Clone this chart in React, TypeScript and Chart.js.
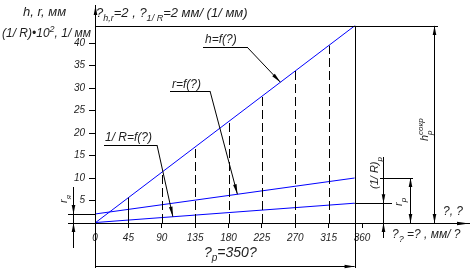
import React, { useEffect, useRef } from 'react';
import { Chart, registerables } from 'chart.js';

Chart.register(...registerables);

// ---- data ----
const phiRange = [0, 350];            // working angle φ, degrees
const hValues = [0, 43.8];            // h, mm
const rValues = [2, 10];              // r, mm
const invRValues = [0.1, 4.4];        // (1/R)·10², 1/mm
const xTickValues = [0, 45, 90, 135, 180, 225, 270, 315, 360];
const yTickValues = [5, 10, 15, 20, 25, 30, 35, 40];
const solidMarks = [45];
const dashedMarks = [90, 135, 180, 225, 270, 315];
const leaderPhi = [250, 192, 105];    // h, r, 1/R leader tips (φ)

const FONT = '"Liberation Sans", Arial, sans-serif';
const TXT = '#1e1e1e';

function valAt(vals: number[], phi: number) {
  return vals[0] + ((vals[1] - vals[0]) * (phi - phiRange[0])) / (phiRange[1] - phiRange[0]);
}

type Part = { t: string; sub?: boolean; sup?: boolean };

function rich(ctx: CanvasRenderingContext2D, x: number, y: number, parts: Part[], size: number, rotate = false) {
  ctx.save();
  ctx.translate(x, y);
  if (rotate) ctx.rotate(-Math.PI / 2);
  ctx.textBaseline = 'alphabetic';
  ctx.textAlign = 'left';
  ctx.fillStyle = TXT;
  let cx = 0;
  let lastStart = 0;
  parts.forEach((p, i) => {
    const s = p.sub || p.sup ? Math.round(size * 0.72) : size;
    ctx.font = `italic ${s}px ${FONT}`;
    const dy = p.sub ? size * 0.32 : p.sup ? -size * 0.45 : 0;
    // a sup directly after a sub stacks on the same x
    const startX = p.sup && i > 0 && parts[i - 1].sub ? lastStart : cx;
    ctx.fillText(p.t, startX, dy);
    lastStart = startX;
    cx = Math.max(cx, startX + ctx.measureText(p.t).width);
  });
  ctx.restore();
}

const drawingPlugin = {
  id: 'drawing',
  afterDatasetsDraw(chart: any) {
    const ctx: CanvasRenderingContext2D = chart.ctx;
    const xs = chart.scales.x;
    const ys = chart.scales.y;
    const X = (v: number) => xs.getPixelForValue(v);
    const Y = (v: number) => ys.getPixelForValue(v);
    ctx.save();
    ctx.strokeStyle = '#000';
    ctx.fillStyle = '#000';
    ctx.lineWidth = 1;

    const seg = (x1: number, y1: number, x2: number, y2: number, dash: number[] = []) => {
      if (x1 === x2) { x1 = x2 = Math.round(x1) + 0.5; }
      if (y1 === y2) { y1 = y2 = Math.round(y1) + 0.5; }
      ctx.setLineDash(dash);
      ctx.beginPath();
      ctx.moveTo(x1, y1);
      ctx.lineTo(x2, y2);
      ctx.stroke();
      ctx.setLineDash([]);
    };
    const arrow = (tx: number, ty: number, fx: number, fy: number, len = 9, half = 1.7) => {
      if (Math.abs(tx - fx) < 0.01) tx = fx = Math.round(tx) + 0.5;
      if (Math.abs(ty - fy) < 0.01) ty = fy = Math.round(ty) + 0.5;
      const dx = tx - fx, dy = ty - fy;
      const d = Math.hypot(dx, dy);
      const ux = dx / d, uy = dy / d;
      const bx = tx - ux * len, by = ty - uy * len;
      ctx.beginPath();
      ctx.moveTo(tx, ty);
      ctx.lineTo(bx - uy * half, by + ux * half);
      ctx.lineTo(bx + uy * half, by - ux * half);
      ctx.closePath();
      ctx.fill();
    };

    const X0 = X(0);
    const Y0 = Y(0);
    const yTop = Y(hValues[1]);
    const xP = X(phiRange[1]);

    // axes
    seg(X0, 5, X0, 268);
    arrow(X0, 6, X0, 20, 9, 1.8);
    seg(68, Y0, 470, Y0);
    arrow(469, Y0, 450, Y0, 12, 1.8);

    // frame lines
    seg(X0, yTop, 438, yTop);
    seg(xP, yTop, xP, 268);

    // φp dimension
    const yB = 266;
    seg(X0, yB, xP, yB);
    arrow(xP, yB, xP - 20, yB, 10, 1.8);
    rich(ctx, 204, 257, [{ t: '?' }, { t: 'p', sub: true }, { t: '=350?' }], 14);

    // ordinates to h line
    solidMarks.forEach((p) => seg(X(p), Y0, X(p), Y(valAt(hValues, p))));
    dashedMarks.forEach((p) => seg(X(p), Y0, X(p), Y(valAt(hValues, p)), [9, 4]));

    // leaders
    const leaders = [
      { vals: hValues, phi: leaderPhi[0], ux1: 203, ux2: 247, uy: 47, tx: 205, ty: 43, parts: [{ t: 'h=f(?)' }] },
      { vals: rValues, phi: leaderPhi[1], ux1: 170, ux2: 210, uy: 91, tx: 172, ty: 88, parts: [{ t: 'r=f(?)' }] },
      { vals: invRValues, phi: leaderPhi[2], ux1: 104, ux2: 157, uy: 145, tx: 105, ty: 141, parts: [{ t: '1/ R=f(?)' }] },
    ];
    leaders.forEach((l) => {
      const tx = X(l.phi);
      const ty = Y(valAt(l.vals, l.phi));
      seg(l.ux1, l.uy, l.ux2, l.uy);
      seg(l.ux2, l.uy, tx, ty);
      arrow(tx, ty, l.ux2, l.uy, 10, 1.8);
      rich(ctx, l.tx, l.ty, l.parts, 12);
    });

    // r_я dimension (left)
    const yr0 = Y(rValues[0]);
    seg(68, yr0, X0, yr0);
    seg(73, 187, 73, 248);
    arrow(73, yr0, 73, yr0 - 12, 9, 1.8);
    arrow(73, Y0, 73, Y0 + 12, 9, 1.8);
    rich(ctx, 67, 203, [{ t: 'r' }, { t: 'я', sub: true }], 11, true);

    // right-hand dimensions
    const yR = Y(rValues[1]);
    const yI = Y(invRValues[1]);
    seg(380, yR, 413, yR);
    seg(xP, yI, 392, yI);
    seg(383, 157, 383, 238);
    arrow(383, yI, 383, yI - 12, 9, 1.8);
    arrow(383, Y0, 383, Y0 + 12, 9, 1.8);
    seg(410, yR, 410, Y0);
    arrow(410, yR, 410, yR + 12, 9, 1.8);
    arrow(410, Y0, 410, Y0 - 12, 9, 1.8);
    seg(434, yTop, 434, Y0);
    arrow(434, yTop, 434, yTop + 12, 9, 1.8);
    arrow(434, Y0, 434, Y0 - 12, 9, 1.8);

    rich(ctx, 378, 189, [{ t: '(1/ R)' }, { t: 'p', sub: true }], 11, true);
    rich(ctx, 402, 206, [{ t: 'r' }, { t: 'p', sub: true }], 11, true);
    rich(ctx, 428, 141, [{ t: 'h' }, { t: 'p', sub: true }, { t: 'сокр', sup: true }], 11, true);

    rich(ctx, 443, 215, [{ t: '?, ?' }], 12);
    rich(ctx, 392, 238, [{ t: '?' }, { t: '?', sub: true }, { t: ' =? , мм/ ?' }], 12);

    // titles
    rich(ctx, 96, 17, [{ t: '?' }, { t: 'h,r', sub: true }, { t: '=2 , ?' }, { t: '1/ R', sub: true }, { t: '=2 мм/ (1/ мм)' }], 13);
    rich(ctx, 23, 16, [{ t: 'h, r, мм' }], 13);
    rich(ctx, 2, 37, [{ t: '(1/ R)•10' }, { t: '2', sup: true }, { t: ', 1/ мм' }], 12);

    ctx.restore();
  },
};

export default function App() {
  const ref = useRef<HTMLCanvasElement | null>(null);
  useEffect(() => {
    if (!ref.current) return;
    const toPts = (vals: number[]) => phiRange.map((p, i) => ({ x: p, y: vals[i] }));
    const tickFont = { family: FONT, size: 10, style: 'italic' as const };
    const chart = new Chart(ref.current, {
      type: 'line',
      data: {
        datasets: [
          { label: 'h', data: toPts(hValues), borderColor: '#0000ff', borderWidth: 1, pointRadius: 0 },
          { label: 'r', data: toPts(rValues), borderColor: '#0000ff', borderWidth: 1, pointRadius: 0 },
          { label: '1/R', data: toPts(invRValues), borderColor: '#0000ff', borderWidth: 1, pointRadius: 0 },
        ],
      },
      options: {
        animation: false,
        responsive: false,
        devicePixelRatio: 1,
        layout: { padding: { left: 55, right: 113, top: 25, bottom: 29 } },
        plugins: { legend: { display: false }, tooltip: { enabled: false }, title: { display: false } },
        scales: {
          x: {
            type: 'linear',
            min: 0,
            max: 360,
            afterBuildTicks: (s: any) => { s.ticks = xTickValues.map((v) => ({ value: v })); },
            afterFit: (s: any) => { s.height = 20; },
            grid: { drawOnChartArea: false, drawTicks: true, tickLength: 5, color: '#000' },
            border: { display: false },
            ticks: { font: tickFont, color: TXT, padding: 4, maxRotation: 0, autoSkip: false },
          },
          y: {
            min: 0,
            max: 44,
            afterBuildTicks: (s: any) => { s.ticks = yTickValues.map((v) => ({ value: v })); },
            afterFit: (s: any) => { s.width = 40; },
            grid: { drawOnChartArea: false, drawTicks: true, tickLength: 6, color: '#000' },
            border: { display: false },
            ticks: { font: tickFont, color: TXT, padding: 4 },
          },
        },
      },
      plugins: [drawingPlugin],
    });
    return () => chart.destroy();
  }, []);
  return (
    <div style={{ position: 'fixed', left: 0, top: 0, width: 475, height: 272, background: '#fff' }}>
      <canvas ref={ref} width={475} height={272} style={{ display: 'block', width: 475, height: 272 }} />
    </div>
  );
}
